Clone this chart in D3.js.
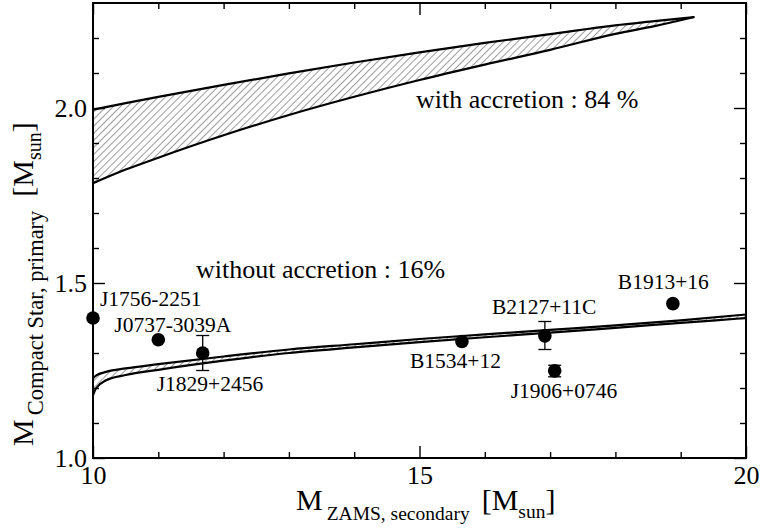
<!DOCTYPE html>
<html><head><meta charset="utf-8">
<script src="https://cdn.jsdelivr.net/npm/d3@7"></script>
<style>
body{margin:0;background:#fff}
svg{display:block}
text{font-family:"Liberation Serif","Times New Roman",serif;fill:#000}
</style>
</head><body>
<svg id="chart" width="762" height="531"></svg>
<script>
// Compact-star mass band, with accretion (upper and lower edge)
const accX     = [10, 10.5, 11, 12, 13, 14, 15, 16, 17, 18, 18.6, 19.21];
const accUpper = [1.995, 2.014, 2.032, 2.066, 2.099, 2.13, 2.159, 2.186, 2.211, 2.236, 2.248, 2.26];
const accLower = [1.785, 1.824, 1.858, 1.922, 1.98, 2.032, 2.08, 2.124, 2.166, 2.212, 2.234, 2.26];

// Compact-star mass band, without accretion
const noAccX     = [10, 10.05, 10.2, 10.5, 11, 12, 13, 14, 15, 16, 17, 18, 19, 20];
const noAccUpper = [1.228, 1.236, 1.246, 1.256, 1.268, 1.29, 1.31, 1.325, 1.34, 1.353, 1.366, 1.379, 1.393, 1.41];
const noAccLower = [1.180, 1.2, 1.222, 1.237, 1.252, 1.278, 1.3, 1.316, 1.331, 1.345, 1.358, 1.372, 1.386, 1.40];

// Observed double neutron star systems
const pulsarNames   = ["J1756-2251", "J0737-3039A", "J1829+2456", "B1534+12", "B2127+11C", "J1906+0746", "B1913+16"];
const secondaryMass = [10.0, 11.0, 11.68, 15.65, 16.92, 17.07, 18.88];
const primaryMass   = [1.40, 1.338, 1.30, 1.333, 1.349, 1.249, 1.441];
const errorLow      = [null, null, 1.25, null, 1.31, 1.232, null];
const errorHigh     = [null, null, 1.35, null, 1.39, 1.265, null];

// Axis ticks
const xMajorTicks = [10, 15, 20];
const xMinorTicks = [11, 12, 13, 14, 16, 17, 18, 19];
const yMajorTicks = [1.0, 1.5, 2.0];
const yMinorTicks = [1.1, 1.2, 1.3, 1.4, 1.6, 1.7, 1.8, 1.9, 2.1, 2.2];

const annotations = ["with accretion : 84 %", "without accretion : 16%"];

// Label placement relative to each point, in pixels
const labelOffset = [[7, -12], [-44, -8], [-46, 38], [-52, 27], [-53, -22], [-44, 27], [-55, -15]];

const svg = d3.select("#chart");
const L = 93, R = 746, T = 3, B = 458;
const x = d3.scaleLinear().domain([10, 20]).range([L, R]);
const y = d3.scaleLinear().domain([1.0, 2.3]).range([B, T]);

// hatch pattern
const defs = svg.append("defs");
const pat = defs.append("pattern").attr("id", "hatch").attr("patternUnits", "userSpaceOnUse")
  .attr("width", 5).attr("height", 5).attr("patternTransform", "rotate(45)");
pat.append("line").attr("x1", 0).attr("y1", 0).attr("x2", 0).attr("y2", 5)
  .attr("stroke", "#222").attr("stroke-width", 0.9);

svg.append("clipPath").attr("id", "plotclip").append("rect")
  .attr("x", L).attr("y", T).attr("width", R - L).attr("height", B - T);

const g = svg.append("g").attr("clip-path", "url(#plotclip)");

function band(xs, up, lo) {
  const pts = xs.map((v, i) => ({x: v, u: up[i], l: lo[i]}));
  const area = d3.area().curve(d3.curveMonotoneX).x(d => x(d.x)).y0(d => y(d.l)).y1(d => y(d.u));
  g.append("path").attr("d", area(pts)).attr("fill", "url(#hatch)");
  const lineU = d3.line().curve(d3.curveMonotoneX).x(d => x(d.x)).y(d => y(d.u));
  const lineL = d3.line().curve(d3.curveMonotoneX).x(d => x(d.x)).y(d => y(d.l));
  g.append("path").attr("d", lineU(pts)).attr("fill", "none").attr("stroke", "#000").attr("stroke-width", 2.2);
  g.append("path").attr("d", lineL(pts)).attr("fill", "none").attr("stroke", "#000").attr("stroke-width", 2.2);
}
band(accX, accUpper, accLower);
band(noAccX, noAccUpper, noAccLower);

// axes: ticks point inward on all four sides
function drawAxis(axisGen, tx, ty, major, minor, labels) {
  const a = svg.append("g").attr("transform", `translate(${tx},${ty})`);
  a.call(axisGen.tickValues(major).tickSize(-12).tickPadding(labels ? 18 : 0)
    .tickFormat(labels ? d3.format(labels) : ""));
  a.select(".domain").remove();
  a.selectAll(".tick line").attr("stroke-width", 1.4);
  a.selectAll(".tick text").attr("font-size", 26).attr("font-family", "Liberation Serif");
  const m = svg.append("g").attr("transform", `translate(${tx},${ty})`);
  m.call(axisGen.tickValues(minor).tickSize(-6).tickFormat(""));
  m.select(".domain").remove();
  m.selectAll(".tick line").attr("stroke-width", 1.4);
  return a;
}
const xb = drawAxis(d3.axisBottom(x), 0, B, xMajorTicks, xMinorTicks, "d");
xb.selectAll(".tick text").attr("dy", "0.71em").attr("y", 8);
drawAxis(d3.axisTop(x), 0, T, xMajorTicks, xMinorTicks, null);
const yl = drawAxis(d3.axisLeft(y), L, 0, yMajorTicks, yMinorTicks, ".1f");
yl.selectAll(".tick text").attr("x", -6);
drawAxis(d3.axisRight(y), R, 0, yMajorTicks, yMinorTicks, null);

svg.append("rect").attr("x", L).attr("y", T).attr("width", R - L).attr("height", B - T)
  .attr("fill", "none").attr("stroke", "#000").attr("stroke-width", 2);

// error bars
const pts = pulsarNames.map((n, i) => ({n, x: secondaryMass[i], y: primaryMass[i], lo: errorLow[i], hi: errorHigh[i], off: labelOffset[i]}));
const eb = svg.append("g").attr("stroke", "#000").attr("stroke-width", 1.3);
pts.filter(d => d.lo !== null).forEach(d => {
  eb.append("line").attr("x1", x(d.x)).attr("x2", x(d.x)).attr("y1", y(d.lo)).attr("y2", y(d.hi));
  eb.append("line").attr("x1", x(d.x) - 6.5).attr("x2", x(d.x) + 6.5).attr("y1", y(d.lo)).attr("y2", y(d.lo));
  eb.append("line").attr("x1", x(d.x) - 6.5).attr("x2", x(d.x) + 6.5).attr("y1", y(d.hi)).attr("y2", y(d.hi));
});
svg.append("g").selectAll("circle").data(pts).join("circle")
  .attr("cx", d => x(d.x)).attr("cy", d => y(d.y)).attr("r", 6.8).attr("fill", "#000");
svg.append("g").selectAll("text").data(pts).join("text")
  .attr("x", d => x(d.x) + d.off[0]).attr("y", d => y(d.y) + d.off[1])
  .attr("font-size", 21.5).text(d => d.n);

// annotations
svg.append("text").attr("x", 416).attr("y", 108).attr("font-size", 26).text(annotations[0]);
svg.append("text").attr("x", 196).attr("y", 278).attr("font-size", 26).text(annotations[1]);

// axis titles
const xt = svg.append("text").attr("x", 296).attr("y", 510).attr("font-size", 30);
xt.append("tspan").text("M");
xt.append("tspan").attr("font-size", 19.5).attr("dy", 10).attr("dx", 4).text("ZAMS, secondary");
xt.append("tspan").attr("dy", -10).attr("dx", 12).text("[M");
xt.append("tspan").attr("font-size", 19.5).attr("dy", 8).text("sun");
xt.append("tspan").attr("dy", -8).text("]");

const yt = svg.append("text").attr("transform", "translate(33,446) rotate(-90)").attr("font-size", 30);
yt.append("tspan").text("M");
yt.append("tspan").attr("font-size", 22.5).attr("dy", 10).attr("dx", 4).text("Compact Star, primary");
yt.append("tspan").attr("dy", -10).attr("dx", 14).text("[M");
yt.append("tspan").attr("font-size", 20).attr("dy", 8).text("sun");
yt.append("tspan").attr("dy", -8).text("]");
</script>
</body></html>
